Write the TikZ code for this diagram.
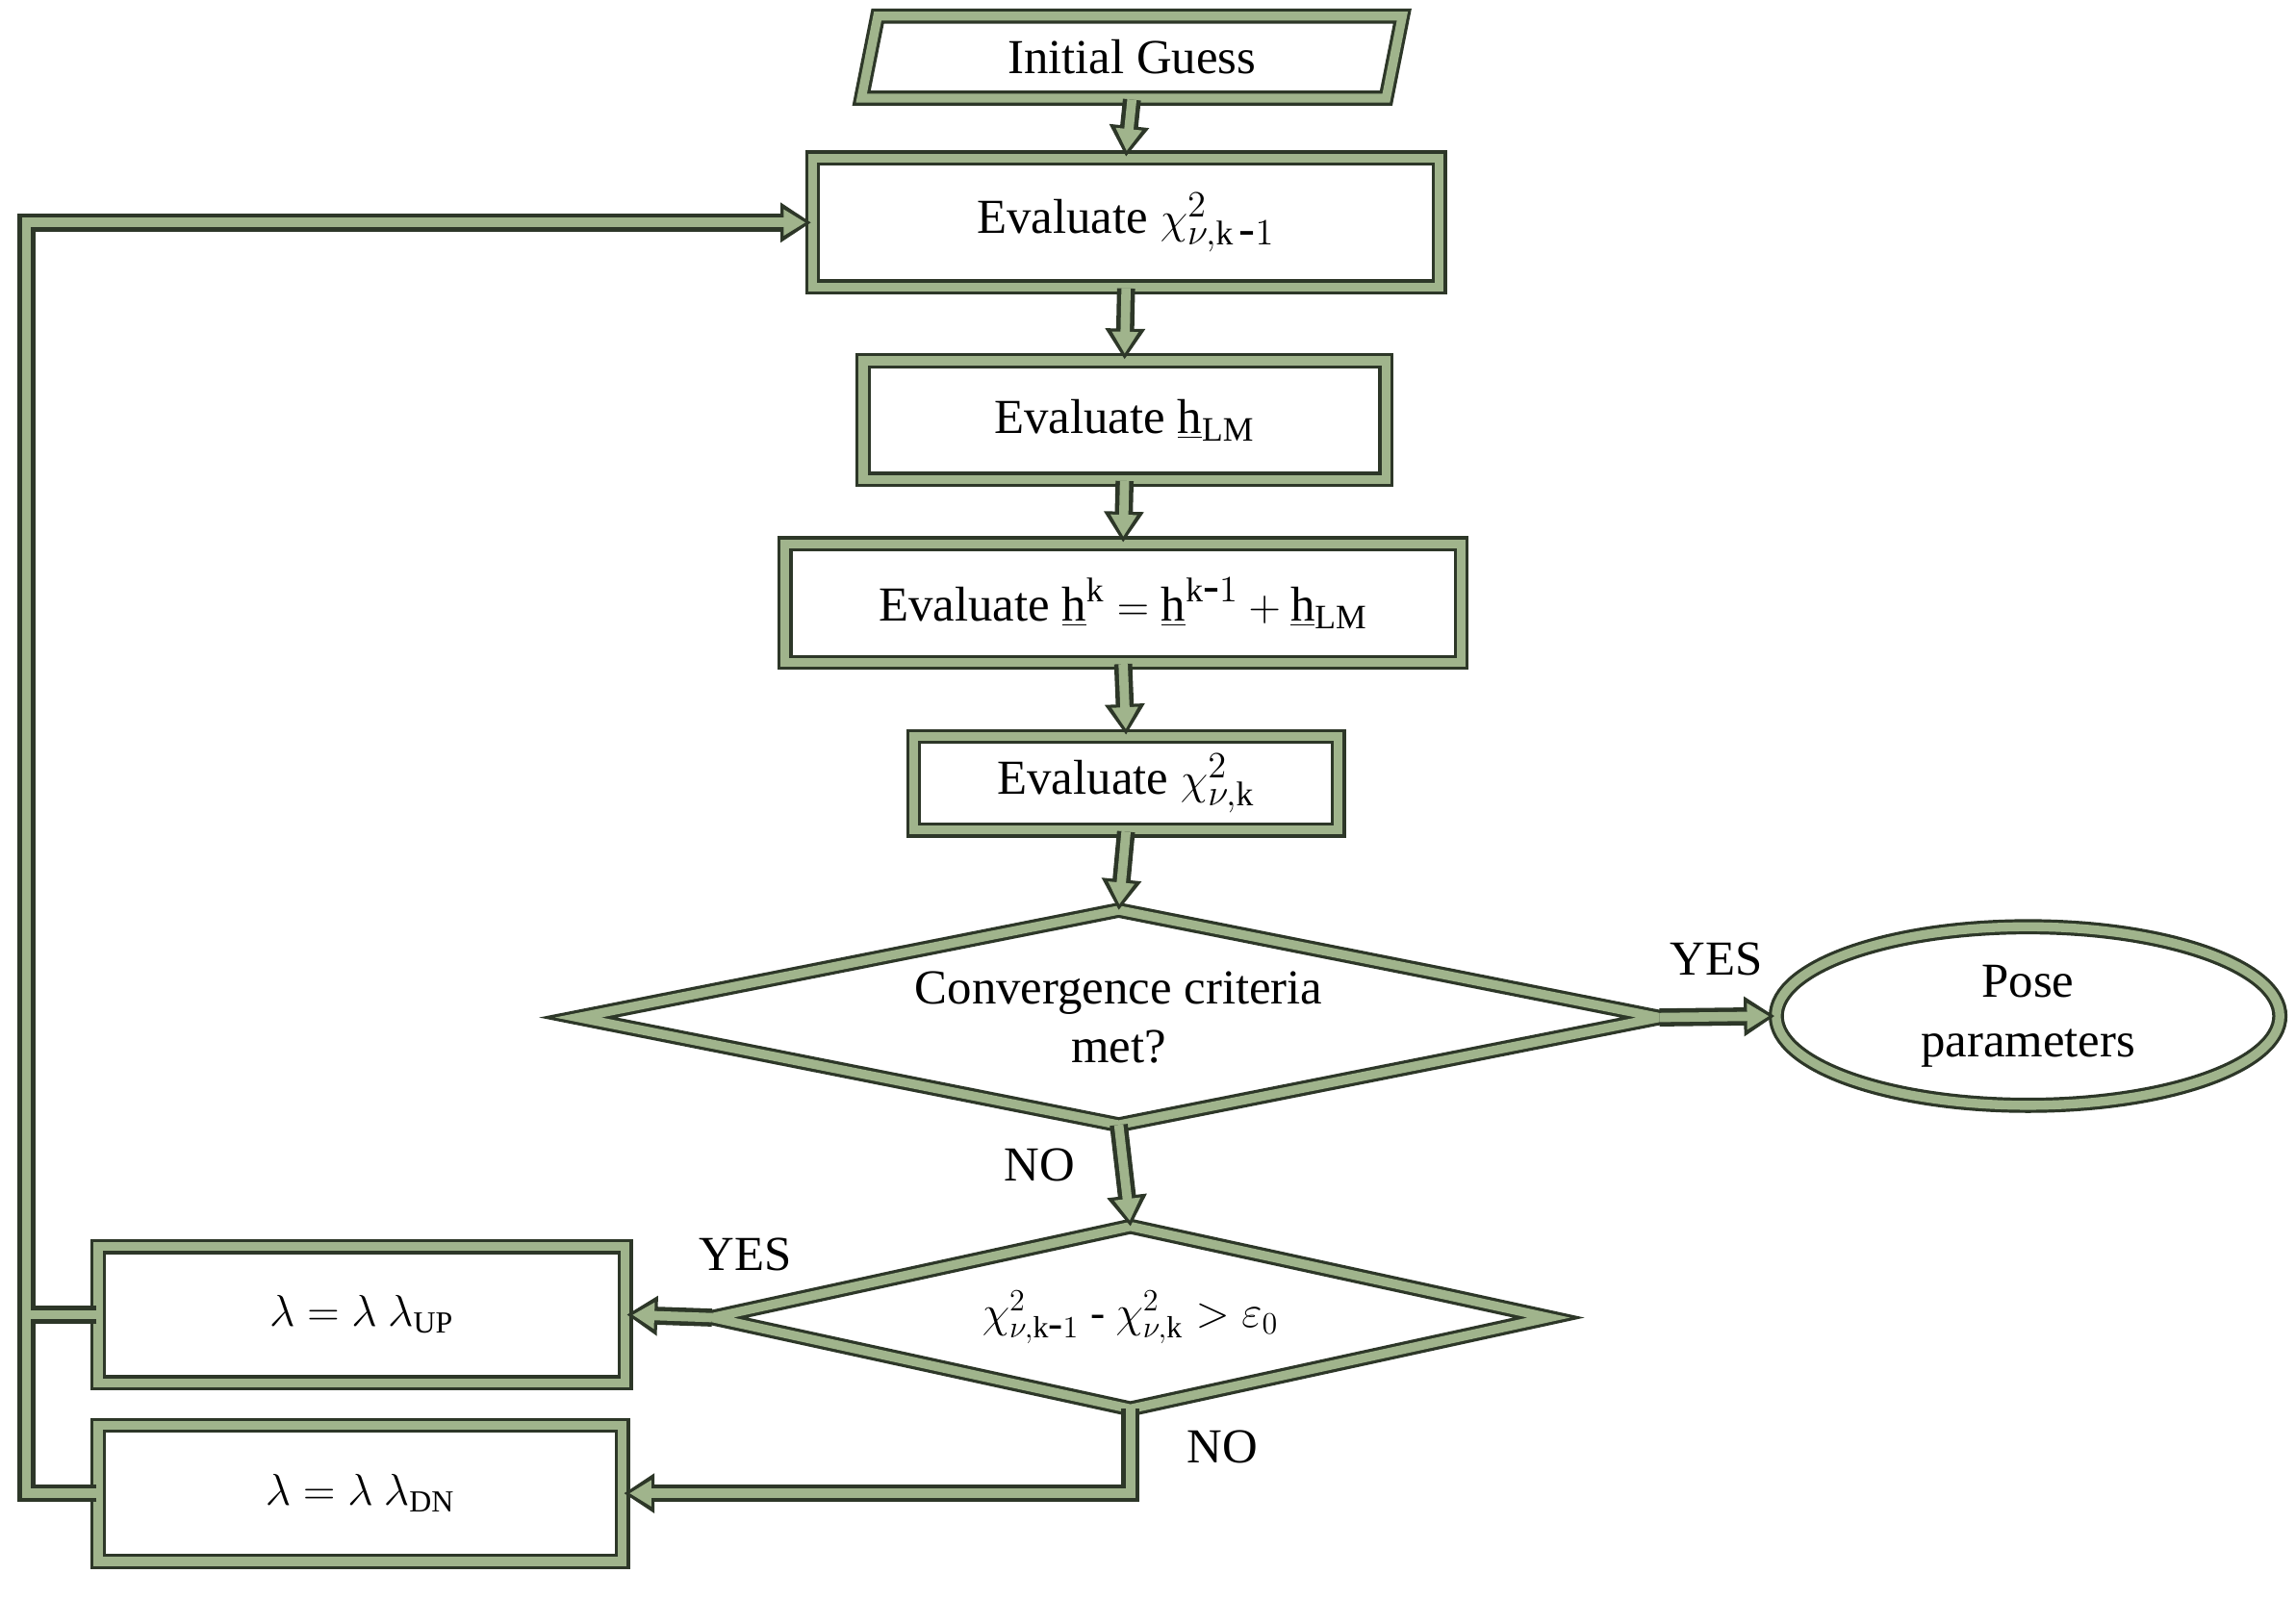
\documentclass[tikz,border=0pt]{standalone}
\usepackage{fontspec}
\setmainfont{Liberation Serif}
\usetikzlibrary{shapes.geometric,arrows.meta}
\definecolor{band}{RGB}{160,180,140}
\definecolor{ln}{RGB}{45,55,40}
\begin{document}
\begin{tikzpicture}[x=0.02cm,y=-0.02cm,
  bl/.style={draw=ln,line width=1.2pt,double=band,double distance=3.5pt},
  box/.style={bl,fill=white,inner sep=0pt,font=\fontsize{19}{23}\selectfont,align=center},
  dbox/.style={inner sep=0pt,font=\fontsize{19}{23}\selectfont,align=center},
  pout/.style={draw=ln,line width=7pt,line join=miter,-{Triangle[length=0.42cm,width=0.52cm]}},
  pin/.style={draw=band,line width=3.6pt,line join=miter,-{Triangle[length=0.3cm,width=0.34cm]},shorten >=2.2pt},
  pout0/.style={draw=ln,line width=7pt},
  pin0/.style={draw=band,line width=3.6pt},
  lab/.style={font=\fontsize{19}{23}\selectfont}]
\useasboundingbox (0,0) rectangle (1568,1092);
\node[box,trapezium,trapezium left angle=77,trapezium right angle=103,trapezium stretches=true,minimum width=7.4cm,minimum height=1.12cm] (ig) at (773,39) {Initial Guess};
\node[box,minimum width=8.56cm,minimum height=1.76cm] (e1) at (769,152) {Evaluate $\chi^{2}_{\mathrm{\nu,k}\,\mbox{-}1}$};
\node[box,minimum width=7.14cm,minimum height=1.62cm] (e2) at (768,287) {Evaluate $\underline{\mathrm{h}}_{\mathrm{LM}}$};
\node[box,minimum width=9.24cm,minimum height=1.62cm] (e3) at (767,412) {Evaluate $\underline{\mathrm{h}}^{\mathrm{k}} = \underline{\mathrm{h}}^{\mathrm{k}\mbox{-}1} + \underline{\mathrm{h}}_{\mathrm{LM}}$};
\node[box,minimum width=5.8cm,minimum height=1.28cm] (e4) at (769,535) {Evaluate $\chi^{2}_{\mathrm{\nu,k}}$};
\node[dbox,minimum width=14.76cm,minimum height=2.92cm] (d1) at (764,695) {Convergence criteria\\met?};
\draw[bl] (d1.north) -- (d1.east) -- (d1.south) -- (d1.west) -- cycle;
\node[box,ellipse,minimum width=6.88cm,minimum height=2.44cm] (pose) at (1385,694) {Pose\\parameters};
\node[dbox,minimum width=11.42cm,minimum height=2.48cm,font=\fontsize{17}{21}\selectfont] (d2) at (772,900) {$\chi^{2}_{\mathrm{\nu,k}\mbox{-}1}$ - $\chi^{2}_{\mathrm{\nu,k}} > \varepsilon_{0}$};
\draw[bl] (d2.north) -- (d2.east) -- (d2.south) -- (d2.west) -- cycle;
\node[box,minimum width=7.2cm,minimum height=1.86cm,font=\fontsize{17}{21}\selectfont] (up) at (247,898) {$\lambda = \lambda\ \lambda_{\mathrm{UP}}$};
\node[box,minimum width=7.16cm,minimum height=1.86cm,font=\fontsize{17}{21}\selectfont] (dn) at (246,1020) {$\lambda = \lambda\ \lambda_{\mathrm{DN}}$};
\coordinate (L) at (18,152);
\node[lab] (y1) at (1172,655) {YES};
\node[lab] (n1) at (710,796) {NO};
\node[lab] (y2) at (509,857) {YES};
\node[lab] (n2) at (835,988) {NO};
% outer
\draw[pout] (ig.south) -- (e1.north);
\draw[pout] (e1.south) -- (e2.north);
\draw[pout] (e2.south) -- (e3.north);
\draw[pout] (e3.south) -- (e4.north);
\draw[pout] (e4.south) -- (d1.north);
\draw[pout] (d1.east) -- (pose.west);
\draw[pout] (d1.south) -- (d2.north);
\draw[pout] (d2.west) -- (up.east);
\draw[pout] (d2.south) |- (dn.east);
\draw[pout0] (up.west) -- (up.west -| L);
\draw[pout] (dn.west) -| (L) -- (e1.west);
% inner
\draw[pin] (ig.south) -- (e1.north);
\draw[pin] (e1.south) -- (e2.north);
\draw[pin] (e2.south) -- (e3.north);
\draw[pin] (e3.south) -- (e4.north);
\draw[pin] (e4.south) -- (d1.north);
\draw[pin] (d1.east) -- (pose.west);
\draw[pin] (d1.south) -- (d2.north);
\draw[pin] (d2.west) -- (up.east);
\draw[pin] (d2.south) |- (dn.east);
\draw[pin0] (up.west) -- (up.west -| L);
\draw[pin] (dn.west) -| (L) -- (e1.west);
\end{tikzpicture}
\end{document}
